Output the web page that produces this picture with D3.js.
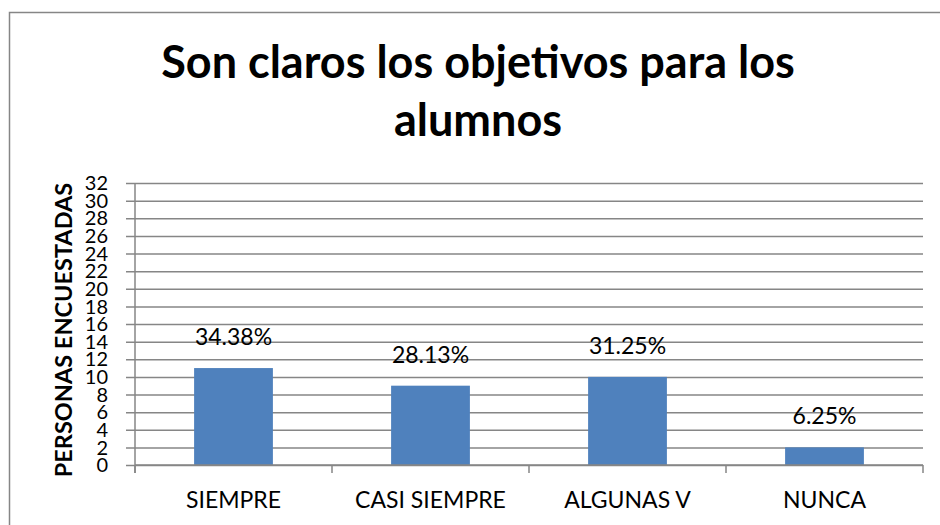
<!DOCTYPE html>
<html>
<head>
<meta charset="utf-8">
<script src="https://cdn.jsdelivr.net/npm/d3@7"></script>
<style>
  body { margin: 0; background: #fff; }
  svg text { font-family: Lato, "Open Sans", sans-serif; fill: #000; }
</style>
</head>
<body>
<div id="chart"></div>
<script>
// datos
const categorias = ["SIEMPRE", "CASI SIEMPRE", "ALGUNAS V", "NUNCA"];
const personas = [11, 9, 10, 2];
const porcentajes = ["34.38%", "28.13%", "31.25%", "6.25%"];
const yTicks = [0, 2, 4, 6, 8, 10, 12, 14, 16, 18, 20, 22, 24, 26, 28, 30, 32];
const tituloLineas = ["Son claros los objetivos para los", "alumnos"];
const tituloY = "PERSONAS ENCUESTADAS";

const W = 940, H = 525;
const margin = {top: 183, right: 17, bottom: 60, left: 135},
    width = W - margin.left - margin.right,
    height = H - margin.top - margin.bottom;

const root = d3.select("#chart")
    .append("svg")
    .attr("width", W)
    .attr("height", H);

// marco exterior
root.append("rect")
    .attr("x", 9.5)
    .attr("y", 12.5)
    .attr("width", W)
    .attr("height", H)
    .attr("fill", "none")
    .attr("stroke", "#868686")
    .attr("stroke-width", 1.5);

// titulo
root.append("text")
    .attr("x", 478)
    .attr("y", 78)
    .attr("text-anchor", "middle")
    .style("font-size", "45px")
    .style("font-weight", "bold")
    .selectAll("tspan")
    .data(tituloLineas)
    .enter()
    .append("tspan")
    .attr("x", 478)
    .attr("dy", (d, i) => i === 0 ? 0 : 58)
    .text(d => d);

const svg = root.append("g")
    .attr("transform", `translate(${margin.left}, ${margin.top})`);

const x = d3.scaleBand()
    .range([0, width])
    .domain(categorias)
    .paddingInner(0.6)
    .paddingOuter(0.3);

const xTicksScale = d3.scaleBand()
    .range([0, width])
    .domain(categorias);

const y = d3.scaleLinear()
    .range([height, 0])
    .domain([0, 32]);

// lineas de division
svg.append("g")
    .call(d3.axisLeft(y).tickValues(yTicks).tickSize(-width).tickFormat(""))
    .call(g => g.select(".domain").remove())
    .call(g => g.selectAll("line")
        .attr("x1", -9)
        .attr("stroke", "#868686")
        .attr("stroke-width", 1.5));

// etiquetas eje Y
svg.append("g")
    .selectAll("text")
    .data(yTicks)
    .enter()
    .append("text")
    .attr("x", -27)
    .attr("y", d => y(d))
    .attr("dy", "0.36em")
    .attr("text-anchor", "end")
    .style("font-size", "20px")
    .text(d => d);

// barras
svg.selectAll("rect.bar")
    .data(personas)
    .enter()
    .append("rect")
    .attr("class", "bar")
    .attr("x", (d, i) => x(categorias[i]))
    .attr("y", d => y(d))
    .attr("width", x.bandwidth())
    .attr("height", d => height - y(d))
    .style("fill", "#4F81BD");

// eje X
const bordes = categorias.map(c => xTicksScale(c)).concat([width]);
svg.append("g")
    .selectAll("line")
    .data(bordes)
    .enter()
    .append("line")
    .attr("x1", d => d)
    .attr("x2", d => d)
    .attr("y1", height)
    .attr("y2", height + 8)
    .attr("stroke", "#868686")
    .attr("stroke-width", 1.5);

svg.append("line")
    .attr("x1", 0).attr("x2", width)
    .attr("y1", height).attr("y2", height)
    .attr("stroke", "#868686")
    .attr("stroke-width", 1.5);

svg.append("line")
    .attr("x1", 0).attr("x2", 0)
    .attr("y1", 0).attr("y2", height + 8)
    .attr("stroke", "#868686")
    .attr("stroke-width", 1.5);

svg.append("g")
    .selectAll("text")
    .data(categorias)
    .enter()
    .append("text")
    .attr("x", d => xTicksScale(d) + xTicksScale.bandwidth() / 2)
    .attr("y", height + 43)
    .attr("text-anchor", "middle")
    .style("font-size", "23px")
    .text(d => d);

// etiquetas de porcentaje
svg.append("g")
    .selectAll("text")
    .data(personas)
    .enter()
    .append("text")
    .attr("x", (d, i) => x(categorias[i]) + x.bandwidth() / 2)
    .attr("y", d => y(d) - 23)
    .attr("text-anchor", "middle")
    .style("font-size", "23px")
    .text((d, i) => porcentajes[i]);

// titulo eje Y
svg.append("text")
    .attr("transform", "rotate(-90)")
    .attr("x", -147)
    .attr("y", -63)
    .attr("text-anchor", "middle")
    .style("font-size", "23.5px")
    .style("font-weight", "bold")
    .text(tituloY);
</script>
</body>
</html>
